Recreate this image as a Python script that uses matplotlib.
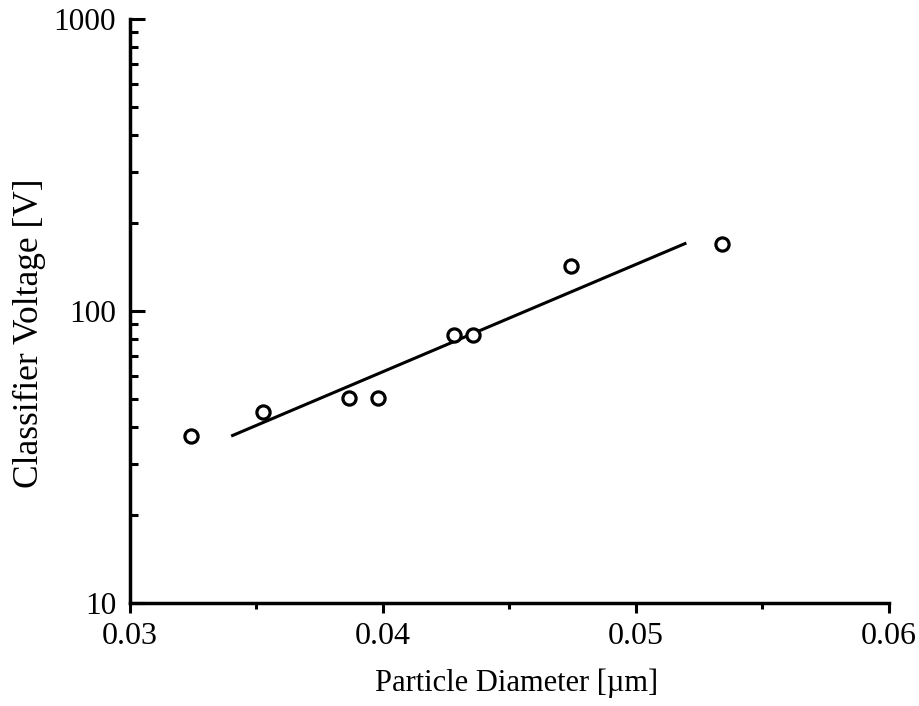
import matplotlib.pyplot as plt
from matplotlib.ticker import FixedLocator, NullFormatter, LogLocator

plt.rcParams['font.family'] = ['Liberation Serif', 'DejaVu Serif']

# measured points
diameter = [0.03241, 0.03526, 0.03866, 0.03980, 0.04281, 0.04356, 0.04743, 0.05340]
voltage = [37.3, 45.1, 50.3, 50.3, 82.8, 82.8, 142.6, 169.5]

# fitted line end points
fit_d = [0.0340, 0.0520]
fit_v = [37.3, 171.0]

xticks = [0.03, 0.04, 0.05, 0.06]
xtick_labels = ['0.03', '0.04', '0.05', '0.06']
yticks = [10, 100, 1000]
ytick_labels = ['10', '100', '1000']

fig = plt.figure(figsize=(9.19, 7.06), dpi=100)
ax = fig.add_axes([0.1415, 0.1459, 0.8255, 0.8271])

ax.plot(fit_d, fit_v, color='black', lw=2.2, solid_capstyle='butt')
ax.plot(diameter, voltage, 'o', mfc='white', mec='black', mew=2.3, ms=9.5, ls='none')

ax.set_yscale('log')
ax.set_xlim(0.03, 0.06)
ax.set_ylim(10, 1000)

ax.spines['top'].set_visible(False)
ax.spines['right'].set_visible(False)
ax.spines['left'].set_linewidth(2.5)
ax.spines['bottom'].set_linewidth(2.5)

ax.set_xticks(xticks)
ax.set_xticklabels(xtick_labels)
ax.xaxis.set_minor_locator(FixedLocator([0.035, 0.045, 0.055]))
ax.set_yticks(yticks)
ax.set_yticklabels(ytick_labels)
ax.yaxis.set_minor_locator(LogLocator(base=10, subs=range(2, 10)))
ax.yaxis.set_minor_formatter(NullFormatter())

ax.tick_params(axis='x', which='major', direction='out', length=7, width=2.2, labelsize=23, pad=7)
ax.tick_params(axis='x', which='minor', direction='out', length=4, width=2.2)
ax.tick_params(axis='y', which='major', direction='in', length=11, width=2.2, labelsize=22.5, pad=10)
ax.tick_params(axis='y', which='minor', direction='in', length=6, width=2.2)

ax.set_xlabel('Particle Diameter [µm]', fontsize=22)
ax.xaxis.set_label_coords(0.509, -0.113)
ax.set_ylabel('Classifier Voltage [V]', fontsize=25.5)
ax.yaxis.set_label_coords(-0.111, 0.462)

fig.savefig('out.png', dpi=100)
